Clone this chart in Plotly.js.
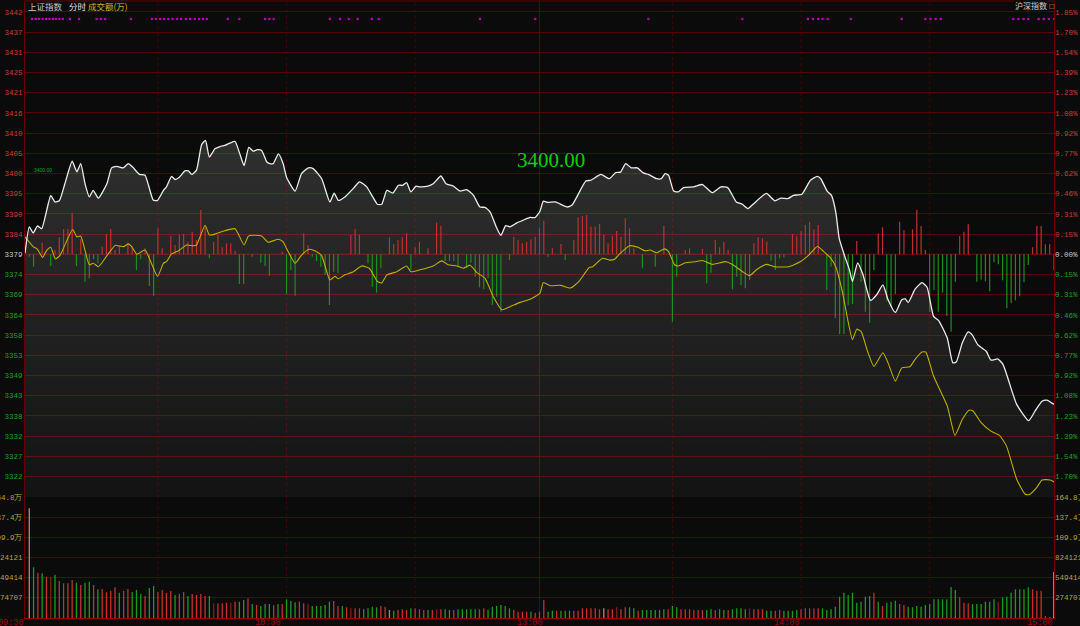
<!DOCTYPE html>
<html><head><meta charset="utf-8">
<script src="https://cdn.plot.ly/plotly-3.0.1.min.js"></script>
<style>html,body{margin:0;padding:0;background:#0b0b0b;}#chart{width:1080px;height:626px;}</style>
</head><body><div id="chart"></div>
<script>
// ---------- axis labels ----------
const prevClose = 3379.2;
const gridStep = 5.2097;           // 0.15417% of prevClose
const priceLabels = ['3442','3437','3431','3425','3421','3416','3410','3405','3400','3395','3390','3384','3379',
  '3374','3369','3364','3358','3353','3349','3343','3338','3332','3327','3322'];
const pctLabels = ['1.85%','1.70%','1.54%','1.39%','1.23%','1.08%','0.92%','0.77%','0.62%','0.46%','0.31%','0.15%','0.00%',
  '0.15%','0.31%','0.46%','0.62%','0.77%','0.92%','1.08%','1.23%','1.39%','1.54%','1.70%'];
const volLabels = ['164.8万','137.4万','109.9万','824121','549414','274707'];
const volStep = 274707;
const timeLabels = ['09:30','10:30','13:00','14:00','15:00'];
const timePos = [0,60,121,181,240];
const vGridPos = [31,61,91,120,151,181,211];

// ---------- price (white) ----------
const priceT = [0,1.0,1.9,2.9,3.9,6.0,7.0,8.0,9.3,11.0,12.1,13.0,14.0,15.0,15.9,17.1,19.1,20.2,21.4,22.9,24.1,25.1,26.7,28.0,29.9,30.9,32.3,33.0,34.2,35.0,36.0,37.3,38.1,38.9,40.0,41.2,42.1,43.0,44.3,45.5,46.6,47.8,49.0,50.1,51.1,52.2,53.2,54.2,55.2,56.4,57.1,57.9,59.1,60.2,61.0,63.0,64.5,66.1,67.2,69.2,71.1,72.1,73.1,74.6,76.6,78.0,79.7,81.1,82.2,83.2,84.4,85.8,87.1,88.1,89.0,90.0,91.2,92.1,93.7,95.2,97.0,98.2,99.9,101.5,103.0,104.6,106.1,107.3,108.5,109.9,111.0,112.1,113.1,114.7,116.2,117.8,119.0,120.1,120.9,121.9,123.7,126.5,127.6,130.8,132.0,134.3,136.3,137.8,138.9,140.1,141.4,142.8,144.2,145.4,147.3,148.4,149.3,150.1,151.3,152.4,153.6,156.0,158.0,160.3,162.3,163.9,165.9,167.3,168.6,169.8,172.9,174.9,176.3,178.0,179.2,181.2,183.2,184.8,185.6,187.1,188.1,189.1,189.9,191.1,192.3,193.0,194.2,195.4,197.2,198.6,200.1,201.3,203.0,204.5,205.3,206.0,207.6,209.2,210.4,211.9,213.1,215.1,216.4,217.2,218.6,220.0,221.0,222.2,224.2,225.3,226.9,228.1,231.3,234.1,235.6,237.2,238.3,240];
const priceV = [3379.5,3386.3,3384.7,3386.5,3385.8,3394.3,3392.7,3393.0,3397.4,3403.2,3400.5,3402.6,3397.4,3394.0,3395.7,3393.7,3397.4,3401.5,3401.9,3401.5,3402.6,3401.7,3399.8,3399.6,3393.2,3393.1,3395.7,3396.6,3399.3,3398.5,3399.1,3400.7,3400.7,3399.8,3400.9,3407.5,3408.6,3404.3,3406.4,3407.0,3407.3,3407.9,3408.3,3405.1,3402.1,3406.8,3405.8,3406.2,3406.0,3403.0,3402.6,3402.6,3405.1,3402.6,3399.1,3395.5,3400.0,3401.5,3401.3,3398.7,3392.7,3395.0,3393.1,3394.0,3396.2,3397.9,3396.6,3394.0,3392.1,3392.1,3395.7,3395.0,3397.0,3397.0,3397.7,3395.3,3396.8,3396.6,3396.7,3397.4,3399.4,3397.4,3396.8,3395.5,3395.9,3394.4,3391.4,3391.3,3390.1,3386.3,3384.1,3386.6,3386.3,3387.3,3388.0,3388.7,3388.7,3390.3,3392.9,3392.6,3392.7,3391.4,3391.9,3398.1,3398.3,3399.8,3398.7,3400.3,3400.4,3402.6,3401.5,3401.5,3400.2,3399.8,3398.7,3398.7,3400.0,3399.6,3395.5,3395.3,3396.4,3396.6,3397.2,3395.1,3396.6,3396.4,3392.7,3392.1,3391.0,3392.1,3394.9,3393.0,3393.7,3393.6,3394.4,3394.7,3398.3,3399.3,3398.7,3395.5,3394.4,3390.1,3383.3,3379.0,3375.2,3372.2,3377.0,3374.1,3367.3,3368.7,3371.3,3367.5,3364.2,3367.5,3367.7,3366.8,3370.2,3371.9,3370.7,3363.2,3362.1,3357.6,3351.2,3351.4,3356.3,3359.2,3358.3,3355.9,3354.2,3351.9,3352.2,3350.8,3340.5,3336.3,3338.8,3341.3,3341.6,3340.5];

// ---------- lead index (yellow) ----------
const leadT = [0,1.9,2.9,4.1,5.1,6.0,7.1,8.2,11.1,12.1,13.0,15.0,15.9,17.1,19.2,21.0,22.2,23.1,24.1,24.9,26.1,28.0,30.9,32.3,33.0,34.2,35.8,37.7,39.3,40.0,42.0,43.0,44.3,45.5,46.6,49.0,51.1,52.1,53.2,55.2,56.7,59.1,60.2,61.0,63.0,64.5,66.3,67.6,69.2,71.1,72.3,73.1,74.6,76.6,78.5,80.3,82.2,83.2,84.4,86.7,89.0,90.0,92.1,95.2,97.2,98.7,100.7,102.2,103.8,105.4,107.3,109.2,111.2,113.1,115.5,117.8,120.1,120.9,122.5,124.9,127.2,129.2,131.6,132.4,134.7,136.3,137.5,138.7,141.0,143.0,144.6,145.8,147.3,149.2,150.1,151.5,152.4,154.0,156.4,158.0,160.3,163.5,165.1,167.4,169.0,170.6,172.9,174.9,178.1,180.8,182.8,184.8,186.3,187.9,189.1,190.7,191.9,193.0,194.0,195.0,196.6,198.0,200.1,201.3,203.0,204.5,206.4,207.6,209.2,210.1,211.9,215.1,216.9,218.6,220.2,221.1,223.0,225.3,227.3,228.9,231.3,233.2,234.2,236.0,237.2,239.1,240];
const leadV = [3383.7,3381.2,3380.5,3378.4,3380.3,3381.0,3378.0,3379.0,3385.6,3383.7,3383.9,3376.5,3376.9,3376.0,3379.0,3381.5,3381.3,3381.2,3381.9,3381.2,3379.2,3380.3,3373.5,3376.9,3377.3,3379.3,3380.1,3381.6,3381.4,3381.6,3386.7,3384.2,3384.4,3384.9,3385.3,3385.8,3381.6,3383.9,3384.1,3383.9,3382.3,3383.1,3382.4,3380.7,3376.9,3379.0,3380.5,3380.1,3378.8,3372.6,3373.5,3372.9,3373.9,3374.7,3376.2,3375.6,3372.2,3371.8,3373.9,3374.7,3376.2,3374.7,3375.2,3376.2,3377.5,3376.5,3376.2,3375.6,3376.4,3374.5,3373.0,3368.3,3364.9,3365.7,3366.8,3367.6,3369.2,3371.9,3371.1,3371.2,3370.5,3372.2,3375.8,3376.0,3378.2,3377.7,3377.9,3379.3,3381.4,3381.0,3380.1,3380.3,3379.6,3380.6,3379.9,3376.5,3376.2,3377.0,3377.3,3377.6,3376.6,3377.3,3376.5,3374.7,3373.7,3375.2,3376.6,3376.0,3376.0,3377.3,3379.0,3381.2,3379.9,3378.2,3376.0,3369.2,3362.3,3357.2,3359.9,3359.3,3353.9,3350.3,3353.8,3351.2,3346.5,3349.9,3350.2,3352.1,3354.0,3354.0,3347.8,3340.1,3332.5,3336.6,3339.0,3338.8,3335.8,3333.6,3332.5,3329.8,3321.2,3317.4,3317.2,3319.1,3321.0,3321.0,3320.5];

// ---------- buy/sell strength bars ----------
const strT = [1,2,4,6,7,8,9,10,11,12,13,14,15,16,17,18,19,20,21,22,24,25,26,27,28,29,30,31,32,34,35,36,37,38,39,40,41,42,43,44,45,46,47,48,49,50,51,53,55,56,57,60,61,62,63,65,66,67,68,69,70,71,72,73,76,77,78,80,81,82,83,85,86,87,88,89,90,91,92,94,96,97,98,99,100,101,103,104,105,106,107,108,109,110,111,113,114,115,116,117,118,119,120,121,122,123,125,126,128,129,130,131,132,133,134,135,136,137,138,139,140,141,142,144,147,149,151,152,154,155,158,159,160,161,162,163,164,165,166,167,168,169,170,171,172,173,174,175,176,177,179,180,181,182,183,184,185,187,188,189,190,191,192,193,194,195,196,197,198,199,200,201,202,203,204,205,207,208,209,210,211,212,213,214,215,216,217,218,219,220,222,223,224,225,226,227,228,229,230,231,232,233,234,235,236,237,238,239,240];
const strV = [-2.4,-12.4,11.6,-11.7,4.3,17,25.3,25.3,41.6,-11.7,15,-27.4,-24,-5,-9,7.6,20.3,25.3,4.3,7.6,11.6,7.6,-15.7,-5,6,-31.7,-41.4,26,6,18.3,9.3,19.3,20.3,12.6,22.6,14.3,44.3,27.6,-4,12.6,19.3,7,11,11,3.6,-29.7,-29.7,-2.4,-8.4,-11.7,-21.4,2.6,-39.7,-15.7,-41.4,21,9.3,-2.4,-6.7,-12.4,-20.7,-50.7,-17.4,-19,19.3,25.3,19.3,-9,-32.4,-38.4,-14,17,10.3,14.3,17,21,-15.7,7,12.6,6,31.6,28.6,-6.7,-6.7,-6.7,-12.4,-14,-8.4,-22.4,-33,-35,-24,-50.7,-42.4,-57.4,-5.7,17.6,14.3,11,12.6,15,17.6,26,33.6,-2.4,6,10.3,-5.7,14.3,37,38.3,39.3,27.6,27.6,30.3,19.3,11,18.3,23.3,17.6,36,26,6,-14,-12.4,28.6,-67.4,-22.4,4.3,6,5.3,-29,-18.4,14.3,7,12.6,4.3,-35,-22.4,-30.7,-34,-25.7,11,17,16,12.6,-6.4,-15.7,-4,-3,20.3,18.3,23.3,29.3,32.6,25,29.3,-35.7,-12.4,-64,-79.7,-79.7,-50.7,-49.7,13.3,-27.4,-57.4,-68.4,-15.7,21,27,-46.4,-52.4,-39.7,32.6,24.3,25,44.3,28.3,4.3,-57.4,-35.7,-57.4,-38.4,-61.7,-77.4,-27.4,18.3,22.6,30,-27.4,-25.4,-27,-37,-8,-10,-26,-54,-49,-46,-42,-28,-10.7,7,28.3,28.3,10,10,-15.7];

// ---------- turnover per minute (万), minute 1..240 ----------
const volV = [1494100,690500,617000,608800,562500,562500,589700,503900,472600,472600,
517600,480800,449500,480800,494400,449500,390900,395000,350000,371800,
418100,344600,367700,395000,354100,381400,326900,299600,408600,435800,
354100,381400,340500,367700,313300,326900,354100,299600,326900,313300,
326900,299600,299600,200200,200200,200200,208400,208400,222000,222000,
245200,268300,190700,177100,163400,190700,190700,177100,190700,190700,
254700,231500,213800,222000,200200,190700,163400,163400,163400,177100,
222000,231500,163400,163400,145700,132100,132100,132100,118500,132100,
153900,145700,163400,153900,109000,99400,109000,118500,109000,132100,
132100,118500,109000,109000,109000,118500,118500,118500,109000,109000,
118500,118500,118500,118500,118500,118500,132100,109000,153900,163400,
177100,163400,132100,109000,85800,85800,85800,85800,72200,85800,
245200,85800,99400,99400,99400,99400,99400,99400,99400,132100,
132100,132100,132100,118500,132100,118500,118500,145700,118500,145700,
145700,132100,99400,109000,109000,109000,109000,109000,118500,118500,
163400,145700,118500,118500,118500,109000,109000,109000,109000,118500,
109000,118500,109000,109000,118500,132100,132100,118500,132100,118500,
118500,118500,99400,99400,99400,109000,99400,99400,99400,109000,
118500,132100,132100,132100,132100,132100,109000,118500,153900,290100,
344600,313300,344600,208400,222000,290100,299600,344600,222000,163400,
208400,222000,235600,190700,177100,153900,145700,163400,153900,177100,
190700,254700,254700,254700,254700,422200,381400,281900,208400,200200,
190700,190700,190700,222000,222000,254700,222000,281900,290100,344600,
390900,390900,390900,418100,390900,371800,371800,27200,13600,626500];
const volC = 'pgrgrdgrrr'+'rgrggrgrrr'+'rgrrgggrgg'+'rrrrgrrgrr'+'rrgdrrrdrg'+'grgrgggrgr'+'gggrrdgggg'+'grrgrdrrgg'+'ggrrsgrrrg'+'rrrgrdrggr'+
  'gggggrrggg'+'gggrrrrgrr'+'rggrgggrrr'+'rrrrprrdrr'+'ggrggggggr'+'ggrrrrrrgg'+'rggrggggdr'+'rrggrrgggg'+'rrrrrggggg'+'gggggggrgr'+
  'gggrrggggg'+'gggggggrrr'+'ggggggdggg'+'ggggrrrrrw';

// ---------- event markers along the top ----------
const eventT = [1.6,2.5,3.3,4.1,4.9,5.7,6.5,7.2,8.0,8.8,10.5,12.6,16.7,17.7,18.7,24.7,29.6,30.5,31.5,32.4,33.4,34.4,35.5,36.4,37.5,38.5,39.6,40.6,41.5,42.4,47.3,50.0,56.0,57.0,58.0,71.1,73.5,75.5,77.6,80.9,82.5,106.1,119.0,145.4,167.3,182.6,183.8,185.0,186.0,187.2,192.6,204.5,210.0,211.2,212.4,213.6,230.5,231.7,232.9,234.0,236.4,237.6,238.8,240];

const COL = {r:'#c83030', d:'#7c1f1f', g:'#1f9a1f', p:'#d87878', w:'#d0d0d0', s:'#8a8a8a'};
const priceTop = 3444.53, priceBottom = 3316.61;
const volTop = 6*volStep;

const tickVals = priceLabels.map((_,i)=> prevClose + (12-i)*gridStep);
const sideCol = i => (i<12 ? '#c83c3c' : (i===12 ? '#c8c8c8' : '#20a020'));
const leftText = priceLabels.map((t,i)=>'<span style="color:'+sideCol(i)+'">'+t+'</span>');
const rightText = pctLabels.map((t,i)=>'<span style="color:'+sideCol(i)+'">'+t+'</span>');
const volTickVals = volLabels.map((_,i)=> (6-i)*volStep);

const volX = volV.map((_,i)=> i+1);
const volColors = volC.split('').map(c=>COL[c]);

const traces = [
  { // grey area under the price line
    x: priceT, y: priceV, xaxis:'x', yaxis:'y', type:'scatter', mode:'lines',
    line:{color:'rgba(0,0,0,0)', width:0, shape:'spline', smoothing:0.5},
    fill:'tozeroy',
    fillgradient:{type:'vertical', start:priceBottom, stop:3410,
      colorscale:[[0,'rgba(255,255,255,0.035)'],[1,'rgba(255,255,255,0.15)']]},
    hoverinfo:'skip'
  },
  { // strength bars
    x: strT, y: strV, xaxis:'x', yaxis:'y3', type:'bar', width:0.28,
    marker:{color: strV.map(v=> v>=0 ? '#c03030' : '#1c8f1c'), line:{width:0}}, hoverinfo:'skip'
  },
  { // lead index line
    x: leadT, y: leadV, xaxis:'x', yaxis:'y4', type:'scatter', mode:'lines',
    line:{color:'#bfb000', width:1.1, shape:'spline', smoothing:0.5}, hoverinfo:'skip'
  },
  { // price line
    x: priceT, y: priceV, xaxis:'x', yaxis:'y4', type:'scatter', mode:'lines',
    line:{color:'#ececec', width:1.3, shape:'spline', smoothing:0.5}, hoverinfo:'skip'
  },
  { // event markers
    x: eventT, y: eventT.map(()=>3439.9), xaxis:'x', yaxis:'y4', type:'scatter', mode:'markers',
    marker:{color:'#c000c0', size:2.2, symbol:'square', line:{width:0}}, hoverinfo:'skip'
  },
  { // turnover bars
    x: volX, y: volV, xaxis:'x', yaxis:'y2', type:'bar', width:0.3,
    marker:{color: volColors, line:{width:0}}, hoverinfo:'skip'
  },
  { x:[0], y:[0], xaxis:'x', yaxis:'y5', type:'scatter', mode:'markers', marker:{opacity:0}, hoverinfo:'skip' }
];

const px2paperX = px => (px-25)/1029;
const px2paperY = py => (618-py)/617;
const axFont = {family:'Liberation Mono, DejaVu Sans Mono, monospace', size:7.5};

const shapes = [];
vGridPos.forEach(m=>{
  shapes.push({type:'line', xref:'x', yref:'paper', x0:m, x1:m, y0:0, y1:1, layer:'below',
    line:{color: m===120 ? '#5a0606' : '#470404', width:1, dash: m===120 ? 'solid' : 'dot'}});
});
shapes.push({type:'line', xref:'paper', yref:'y', x0:0, x1:1, y0:prevClose, y1:prevClose, layer:'below', line:{color:'#b00000', width:1}});
shapes.push({type:'line', xref:'x', yref:'y', x0:1.87, x1:240, y0:3400.04, y1:3400.04, layer:'below', line:{color:'#4f8f1f', width:1.2}});
shapes.push({type:'line', xref:'paper', yref:'paper', x0:0, x1:1, y0:1, y1:1, layer:'above', line:{color:'#6a0000', width:1}});

const annotations = [];
timeLabels.forEach((t,i)=>{
  annotations.push({text:t, xref:'x', yref:'paper', x:timePos[i], y:0, xanchor:'right', yanchor:'top', yshift:1,
    showarrow:false, borderpad:0, font:{family:'Liberation Mono, monospace', size:8.5, color:'#a80000'}});
});
annotations.push({text:'3400.00', xref:'x', yref:'y', x:122.7, y:3403.6, xanchor:'center', yanchor:'middle', showarrow:false,
  font:{family:'Liberation Serif, serif', size:21, color:'#00d000'}});
annotations.push({text:'3400.00', xref:'x', yref:'y', x:1.9, y:3400.04, xanchor:'left', yanchor:'bottom', yshift:0, showarrow:false, borderpad:0,
  font:{family:'Liberation Sans, sans-serif', size:5, color:'#00b000'}});
const tFont = (c)=>({family:'Noto Sans CJK SC, sans-serif', size:8.5, color:c});
annotations.push({text:'上证指数', xref:'paper', yref:'paper', x:px2paperX(27), y:px2paperY(6), xanchor:'left', yanchor:'middle', showarrow:false, borderpad:0, font:tFont('#c8c8c8')});
annotations.push({text:'分时', xref:'paper', yref:'paper', x:px2paperX(68), y:px2paperY(6), xanchor:'left', yanchor:'middle', showarrow:false, borderpad:0, font:tFont('#e0e0e0')});
annotations.push({text:'成交额(万)', xref:'paper', yref:'paper', x:px2paperX(87), y:px2paperY(6), xanchor:'left', yanchor:'middle', showarrow:false, borderpad:0, font:tFont('#c8b428')});
annotations.push({text:'沪深指数', xref:'paper', yref:'paper', x:px2paperX(1014), y:px2paperY(6), xanchor:'left', yanchor:'middle', showarrow:false, borderpad:0, bgcolor:'#0b0b0b', font:{family:'Noto Sans CJK SC, sans-serif', size:8, color:'#d0d0d0'}});
annotations.push({text:'□', xref:'paper', yref:'paper', x:px2paperX(1048), y:px2paperY(6), xanchor:'left', yanchor:'middle', showarrow:false, borderpad:0, font:{family:'DejaVu Sans', size:6, color:'#c0c0c0'}});

const layout = {
  width:1080, height:626,
  margin:{l:25, r:26, t:1, b:8, pad:0},
  paper_bgcolor:'#0b0b0b', plot_bgcolor:'#0b0b0b',
  showlegend:false, barmode:'overlay', hovermode:false,
  font:{family:'Liberation Mono, monospace', size:7.5, color:'#c0c0c0'},
  xaxis:{range:[0,240], domain:[0,1], anchor:'y2', showgrid:false, zeroline:false, showticklabels:false, ticks:'',
    showline:true, linecolor:'#900000', linewidth:1, fixedrange:true},
  yaxis:{domain:[0.19611,1], range:[priceBottom, priceTop], anchor:'x', tickmode:'array', tickvals:tickVals, ticktext:leftText,
    showgrid:true, gridcolor:'#560606', gridwidth:1, zeroline:false, ticks:'', showline:true, mirror:true, linecolor:'#6a0000',
    tickfont:axFont, fixedrange:true},
  yaxis2:{domain:[0,0.19611], range:[0, volTop], anchor:'x', tickmode:'array', tickvals:volTickVals, ticktext:volLabels,
    showgrid:true, gridcolor:'#560606', gridwidth:1, zeroline:false, ticks:'', showline:true, mirror:true, linecolor:'#6a0000',
    tickfont:Object.assign({}, axFont, {color:'#b4a63c'}), fixedrange:true},
  yaxis3:{overlaying:'y', range:[-242.7, 253.3], visible:false, fixedrange:true},
  yaxis4:{overlaying:'y', side:'right', anchor:'x', range:[priceBottom, priceTop], tickmode:'array', tickvals:tickVals, ticktext:rightText,
    showgrid:false, zeroline:false, ticks:'', showline:false, tickfont:axFont, fixedrange:true},
  yaxis5:{overlaying:'y2', side:'right', anchor:'x', range:[0, volTop], tickmode:'array', tickvals:volTickVals, ticktext:volLabels,
    showgrid:false, zeroline:false, ticks:'', showline:false, tickfont:Object.assign({}, axFont, {color:'#b4a63c'}), fixedrange:true},
  shapes: shapes,
  annotations: annotations
};

Plotly.newPlot('chart', traces, layout, {displayModeBar:false, staticPlot:true});
</script>
</body></html>
